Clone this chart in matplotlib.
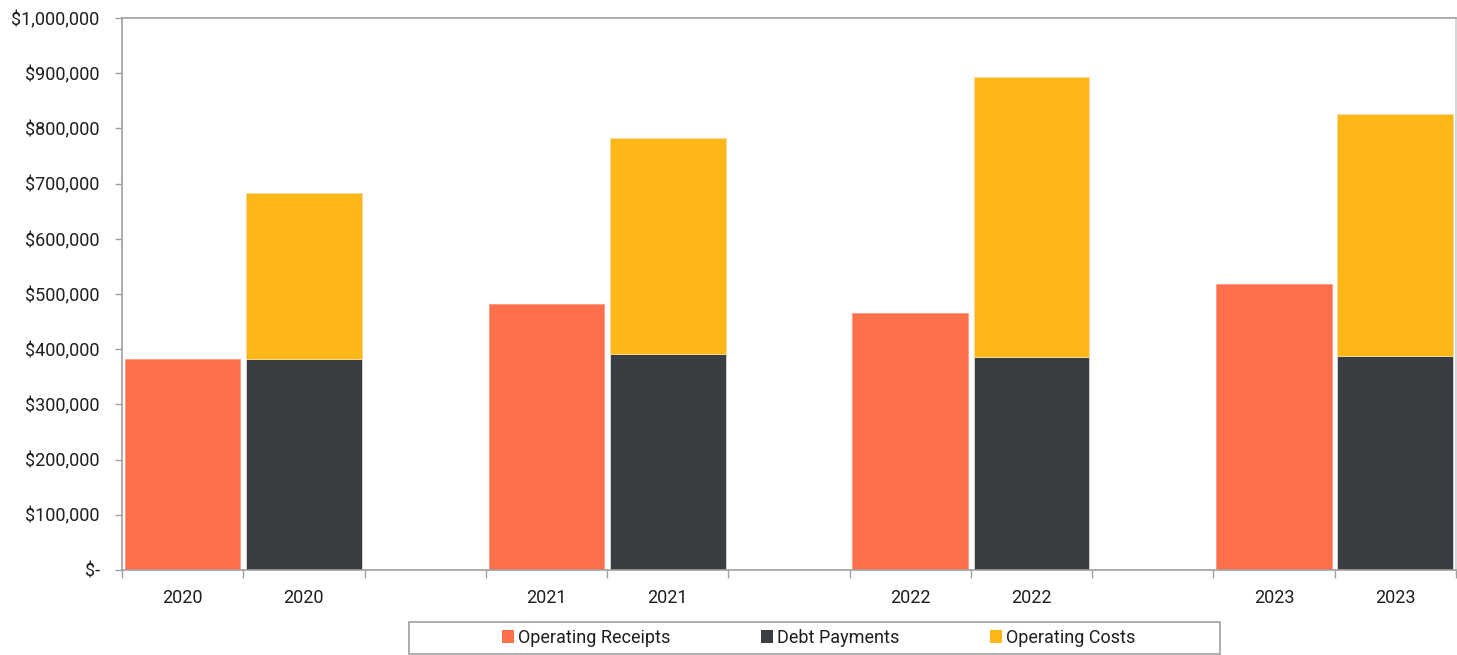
import matplotlib.pyplot as plt
from matplotlib.patches import Patch, Rectangle
from matplotlib.ticker import FuncFormatter, MultipleLocator

plt.rcParams["font.family"] = ["Roboto", "DejaVu Sans"]

# Category slots along the x axis (blank slots are spacers between years)
CATEGORIES = ["2020", "2020", "", "2021", "2021", "", "2022", "2022", "", "2023", "2023"]
YEARS = ["2020", "2021", "2022", "2023"]
RECEIPTS = [382000, 481000, 465000, 519000]
DEBT = [382000, 392000, 385000, 387000]
COSTS = [301000, 390000, 508000, 439000]

ORANGE = "#FF6F4A"
DARK = "#3A3E42"
YELLOW = "#FEB716"
AXIS = "#A0A0A0"
TEXT = "#1E1E1E"

fig = plt.figure(figsize=(14.57, 6.55), dpi=100)
ax = fig.add_axes([0.0837, 0.1298, 0.9156, 0.8427])

x = list(range(len(CATEGORIES)))
rx = [3 * i for i in range(len(YEARS))]
dx = [3 * i + 1 for i in range(len(YEARS))]
w = 0.955

ax.bar(rx, RECEIPTS, width=w, color=ORANGE, edgecolor="#FF9A80", linewidth=0.6, zorder=2)
ax.bar(dx, DEBT, width=w, color=DARK, edgecolor="#D9D9D9", linewidth=0.6, zorder=2)
ax.bar(dx, COSTS, bottom=DEBT, width=w, color=YELLOW, edgecolor="#F2D9A0", linewidth=0.6, zorder=2)

ax.set_xlim(-0.5, len(CATEGORIES) - 0.5)
ax.set_ylim(0, 1000000)

ax.set_xticks(x)
ax.set_xticklabels(CATEGORIES, fontsize=13, color=TEXT)
ax.tick_params(axis="x", which="major", length=0, pad=14)
ax.set_xticks([i - 0.5 for i in range(len(CATEGORIES) + 1)], minor=True)
ax.tick_params(axis="x", which="minor", length=6, color=AXIS, width=1)

ax.yaxis.set_major_locator(MultipleLocator(100000))


def money(v, _):
    return "$-" if v == 0 else f"${v:,.0f}"


ax.yaxis.set_major_formatter(FuncFormatter(money))
ax.tick_params(axis="y", length=5, color=AXIS, width=1, labelsize=13, labelcolor=TEXT, pad=11)

for side in ("left", "bottom", "top", "right"):
    ax.spines[side].set_color(AXIS)
    ax.spines[side].set_linewidth(1.2)
ax.spines["right"].set_color("#D0D0D0")

handles = [
    Patch(facecolor=ORANGE, label="Operating Receipts"),
    Patch(facecolor=DARK, label="Debt Payments"),
    Patch(facecolor=YELLOW, label="Operating Costs"),
]
# Excel-style legend box, wider than its contents
fig.patches.append(Rectangle((0.2807, 0.0015), 0.5566, 0.049, transform=fig.transFigure,
                             fill=False, edgecolor=AXIS, linewidth=1.2))
leg = fig.legend(
    handles=handles,
    loc="center",
    bbox_to_anchor=(0.5618, 0.026),
    ncol=3,
    fontsize=13,
    frameon=False,
    handlelength=0.7,
    handleheight=0.7,
    handletextpad=0.2,
    columnspacing=5.0,
    borderpad=0.3,
)
for t in leg.get_texts():
    t.set_color(TEXT)

fig.savefig("out.png", dpi=100)
